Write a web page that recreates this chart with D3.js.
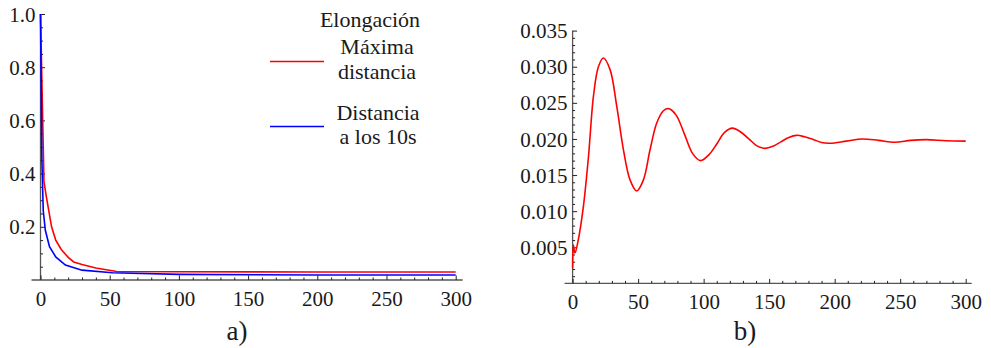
<!DOCTYPE html>
<html>
<head>
<meta charset="utf-8">
<script src="https://cdn.jsdelivr.net/npm/d3@7"></script>
<style>body{margin:0;background:#fff}</style>
</head>
<body>
<svg id="c" width="991" height="348" font-family="Liberation Serif" style="font-family: 'Liberation Serif'"></svg>
<script>
// ---- Data: panel a) ----
const redT   = [0, 1, 2.5, 4, 6, 8, 11, 15, 20, 24, 30, 40, 55, 100, 200, 300];
const redV   = [1.0, 0.75, 0.37, 0.32, 0.26, 0.2, 0.15, 0.115, 0.085, 0.068, 0.058, 0.045, 0.032, 0.031, 0.03, 0.03];
const blueT  = [0, 1, 2, 3.5, 6.5, 11, 18, 30, 52, 100, 200, 300];
const blueV  = [1.0, 0.45, 0.26, 0.187, 0.125, 0.087, 0.056, 0.037, 0.027, 0.021, 0.019, 0.019];
const aXTicks = [0, 50, 100, 150, 200, 250, 300];
const aYTicks = [0.2, 0.4, 0.6, 0.8, 1.0];
const legendTitle = "Elongación";
const legendItems = [["Máxima", "distancia"], ["Distancia", "a los 10s"]];
const seriesColors = ["#ff0000", "#0000ff"];

// ---- Data: panel b) ----
const bT = [0, 0.6, 1.8, 4.3, 8.2, 12.1, 15.9, 19.7, 23.5, 28.6, 33.7, 38.8, 43.9, 48.9, 54, 59.1, 64.2, 69.3, 73.3, 79, 85.5, 91.5, 97.6, 104, 110, 116, 122, 128, 134.5, 141, 147, 153, 159, 165, 171, 177, 184, 190, 196.5, 209, 221, 233.5, 246, 258, 270, 285, 300];
const bV = [0.0021, 0.0053, 0.0042, 0.006, 0.0106, 0.0175, 0.0259, 0.0300, 0.0312, 0.0296, 0.0245, 0.0185, 0.0143, 0.0128, 0.0143, 0.0185, 0.0222, 0.0239, 0.0242, 0.0233, 0.0206, 0.0180, 0.0170, 0.0178, 0.0193, 0.0209, 0.0215, 0.0210, 0.0200, 0.0190, 0.0187, 0.0190, 0.0196, 0.0202, 0.0205, 0.0203, 0.0199, 0.0195, 0.0194, 0.0197, 0.0200, 0.0198, 0.01955, 0.0198, 0.0199, 0.01975, 0.0197];
const bXTicks = [0, 50, 100, 150, 200, 250, 300];
const bYTicks = [0.005, 0.010, 0.015, 0.020, 0.025, 0.030, 0.035];

const svg = d3.select("#c");
const axisColor = "#555";

function styleText(sel, size) {
  sel.attr("font-size", size).style("font-family", '"Liberation Serif"').attr("font-family", "Liberation Serif").attr("fill", "#1a1a1a");
  return sel;
}

function drawAxes(g, x, y, xTicks, xMinor, yTicks, yMinor, yFmt, xExt, yTop) {
  g.append("line").attr("x1", x.range()[0] - xExt[0]).attr("x2", x.range()[1] + xExt[1])
    .attr("y1", y(0)).attr("y2", y(0)).attr("stroke", axisColor).attr("stroke-width", 1.3);
  g.append("line").attr("x1", x(0)).attr("x2", x(0))
    .attr("y1", y(0)).attr("y2", yTop).attr("stroke", axisColor).attr("stroke-width", 1.3);

  const xa = g.append("g").attr("transform", `translate(0,${y(0)})`)
    .call(d3.axisBottom(x).tickValues(xTicks).tickSizeInner(-4.5).tickSizeOuter(0).tickPadding(8).tickFormat(d3.format("d")));
  xa.select(".domain").remove();
  xa.attr("font-family", "Liberation Serif").attr("font-size", 21);
  styleText(xa.selectAll("text"), 21).attr("dy", "0.85em");
  xa.selectAll("line").attr("stroke", "#222");
  const xm = g.append("g").attr("transform", `translate(0,${y(0)})`)
    .call(d3.axisBottom(x).tickValues(xMinor).tickSizeInner(-2.5).tickSizeOuter(0).tickFormat(""));
  xm.select(".domain").remove();
  xm.selectAll("line").attr("stroke", "#222");

  const ya = g.append("g").attr("transform", `translate(${x(0)},0)`)
    .call(d3.axisLeft(y).tickValues(yTicks).tickSizeInner(-4.5).tickSizeOuter(0).tickPadding(5).tickFormat(yFmt));
  ya.select(".domain").remove();
  ya.attr("font-family", "Liberation Serif").attr("font-size", 21);
  styleText(ya.selectAll("text"), 21).attr("dy", "0.34em");
  ya.selectAll("line").attr("stroke", "#222");
  const ym = g.append("g").attr("transform", `translate(${x(0)},0)`)
    .call(d3.axisLeft(y).tickValues(yMinor).tickSizeInner(-2.5).tickSizeOuter(0).tickFormat(""));
  ym.select(".domain").remove();
  ym.selectAll("line").attr("stroke", "#222");
}

// ---- Panel a ----
{
  const x = d3.scaleLinear().domain([0, 300]).range([40.5, 455.7]);
  const y = d3.scaleLinear().domain([0, 1]).range([280, 14]);
  const g = svg.append("g");
  const xMinor = d3.range(0, 301, 10).filter(v => v % 50 !== 0);
  const yMinor = d3.range(1, 20).map(v => v * 0.05).filter((v, i) => (i + 1) % 4 !== 0);
  drawAxes(g, x, y, aXTicks, xMinor, aYTicks, yMinor, d3.format(".1f"), [9, 7], y(1));

  const line = d3.line().x(d => x(d[0])).y(d => y(d[1]));
  g.append("path").datum(redT.map((t, i) => [t, redV[i]]))
    .attr("d", line).attr("fill", "none").attr("stroke", seriesColors[0]).attr("stroke-width", 1.6);
  g.append("path").datum(blueT.map((t, i) => [t, blueV[i]]))
    .attr("d", line).attr("fill", "none").attr("stroke", seriesColors[1]).attr("stroke-width", 1.6);

  const lf = 22;
  styleText(svg.append("text").attr("x", 370).attr("y", 26.5).attr("text-anchor", "middle"), lf).text(legendTitle);
  const rows = [{ ly: 61.5, t1: 54, t2: 79, cx: 377 }, { ly: 126.5, t1: 120, t2: 144, cx: 378 }];
  legendItems.forEach((it, i) => {
    const r = rows[i];
    svg.append("line").attr("x1", 270).attr("x2", 324).attr("y1", r.ly).attr("y2", r.ly)
      .attr("stroke", seriesColors[i]).attr("stroke-width", 1.6);
    styleText(svg.append("text").attr("x", r.cx).attr("y", r.t1).attr("text-anchor", "middle"), lf).text(it[0]);
    styleText(svg.append("text").attr("x", r.cx).attr("y", r.t2).attr("text-anchor", "middle"), lf).text(it[1]);
  });

  styleText(svg.append("text").attr("x", 237).attr("y", 340).attr("text-anchor", "middle"), 27).text("a)");
}

// ---- Panel b ----
{
  const x = d3.scaleLinear().domain([0, 300]).range([572.6, 965.7]);
  const y = d3.scaleLinear().domain([0, 0.035]).range([283.4, 30.6]);
  const g = svg.append("g");
  const xMinor = d3.range(0, 301, 10).filter(v => v % 50 !== 0);
  const yMinor = d3.range(1, 36).map(v => v / 1000).filter((v, i) => (i + 1) % 5 !== 0);
  drawAxes(g, x, y, bXTicks, xMinor, bYTicks, yMinor, d3.format(".3f"), [8, 6], y(0.035));

  const line = d3.line().curve(d3.curveCatmullRom.alpha(0.5)).x(d => x(d[0])).y(d => y(d[1]));
  g.append("path").datum(bT.map((t, i) => [t, bV[i]]))
    .attr("d", line).attr("fill", "none").attr("stroke", "#ff0000").attr("stroke-width", 1.6);

  styleText(svg.append("text").attr("x", 745).attr("y", 340).attr("text-anchor", "middle"), 27).text("b)");
}
</script>
</body>
</html>
